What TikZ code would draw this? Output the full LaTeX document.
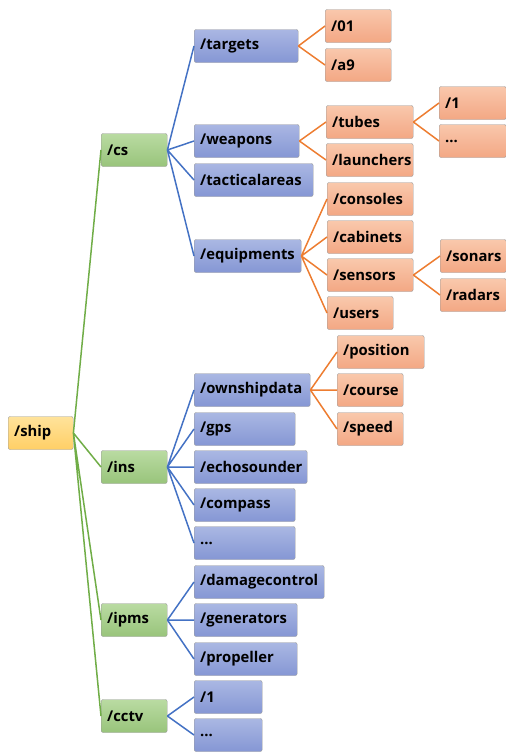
\documentclass[tikz,border=0pt]{standalone}
\usepackage{fontspec}
\setmainfont{Open Sans}
\definecolor{ylwTop}{HTML}{FFE39B}
\definecolor{ylwBot}{HTML}{FFCF66}
\definecolor{grnTop}{HTML}{BADBA2}
\definecolor{grnBot}{HTML}{98C47B}
\definecolor{bluTop}{HTML}{AAB7E3}
\definecolor{bluBot}{HTML}{8596D4}
\definecolor{orgTop}{HTML}{F9C8AC}
\definecolor{orgBot}{HTML}{F3A784}
\definecolor{grnLine}{HTML}{70AD47}
\definecolor{bluLine}{HTML}{4472C4}
\definecolor{orgLine}{HTML}{ED7D31}
\tikzset{%
    box/.style={draw=black!40, rounded corners=2pt, anchor=west,
        minimum height=33pt, inner xsep=6pt, inner ysep=0pt, align=left,
        font=\bfseries\fontsize{14.8}{16}\selectfont, text width=#1-12pt},
    ylw/.style={box=#1, top color=ylwTop, bottom color=ylwBot},
    grn/.style={box=#1, top color=grnTop, bottom color=grnBot},
    blu/.style={box=#1, top color=bluTop, bottom color=bluBot},
    org/.style={box=#1, top color=orgTop, bottom color=orgBot}
}
\begin{document}
\begin{tikzpicture}[
                x=1pt, y=-1pt,
                gline/.style={grnLine, line width=1.5pt},
                bline/.style={bluLine, line width=1.5pt},
                oline/.style={orgLine, line width=1.5pt}
            ]
            \useasboundingbox (0,0) rectangle (506,753);
            % root and first level
            \node[ylw=65pt] (ship) at (8,433){/ship};
            \node[grn=66pt] (cs) at (101,150){/cs};
            \node[grn=66pt] (ins) at (101,467){/ins};
            \node[grn=66pt] (ipms) at (101,620){/ipms};
            \node[grn=66pt] (cctv) at (101,716){/cctv};

            % second level
            \node[blu=104pt] (targets) at (194,46){/targets};
            \node[blu=105pt] (weapons) at (194,141){/weapons};
            \node[blu=119pt] (tactical) at (194,180){/tacticalareas};
            \node[blu=107pt] (equip) at (194,256){/equipments};
            \node[blu=116pt] (ownship) at (194,390){/ownshipdata};
            \node[blu=101pt] (gps) at (194,429){/gps};
            \node[blu=113pt] (echo) at (194,467){/echosounder};
            \node[blu=101pt] (compass) at (194,505){/compass};
            \node[blu=101pt] (insmore) at (194,543){...};
            \node[blu=130pt] (damage) at (194,582){/damagecontrol};
            \node[blu=103pt] (gen) at (194,620){/generators};
            \node[blu=103pt] (prop) at (194,659){/propeller};
            \node[blu=68pt] (camone) at (194,697){/1};
            \node[blu=68pt] (cammore) at (194,735){...};

            % third level
            \node[org=66pt] (tzero) at (325,26){/01};
            \node[org=66pt] (tnine) at (325,65){/a9};
            \node[org=87pt] (tubes) at (326,122){/tubes};
            \node[org=87pt] (launch) at (326,160){/launchers};
            \node[org=86pt] (consoles) at (327,199){/consoles};
            \node[org=86pt] (cabinets) at (327,237){/cabinets};
            \node[org=86pt] (sensors) at (327,275){/sensors};
            \node[org=66pt] (users) at (327,313){/users};
            \node[org=87pt] (position) at (337,352){/position};
            \node[org=66pt] (course) at (337,390){/course};
            \node[org=66pt] (speed) at (337,429){/speed};

            % fourth level
            \node[org=67pt] (tubeone) at (439,103){/1};
            \node[org=67pt] (tubemore) at (439,141){...};
            \node[org=66pt] (sonars) at (440,256){/sonars};
            \node[org=66pt] (radars) at (440,295){/radars};

            \draw[gline] (ship.east) -- (cs.west) (ship.east) -- (ins.west)
                (ship.east) -- (ipms.west) (ship.east) -- (cctv.west);
            \draw[bline] (cs.east) -- (targets.west) (cs.east) -- (weapons.west)
                (cs.east) -- (tactical.west) (cs.east) -- (equip.west);
            \draw[bline] (ins.east) -- (ownship.west) (ins.east) -- (gps.west)
                (ins.east) -- (echo.west) (ins.east) -- (compass.west)
                (ins.east) -- (insmore.west);
            \draw[bline] (ipms.east) -- (damage.west) (ipms.east) -- (gen.west)
                (ipms.east) -- (prop.west);
            \draw[bline] (cctv.east) -- (camone.west) (cctv.east) -- (cammore.west);
            \draw[oline] (targets.east) -- (tzero.west) (targets.east) -- (tnine.west);
            \draw[oline] (weapons.east) -- (tubes.west) (weapons.east) -- (launch.west);
            \draw[oline] (equip.east) -- (consoles.west) (equip.east) -- (cabinets.west)
                (equip.east) -- (sensors.west) (equip.east) -- (users.west);
            \draw[oline] (ownship.east) -- (position.west) (ownship.east) -- (course.west)
                (ownship.east) -- (speed.west);
            \draw[oline] (tubes.east) -- (tubeone.west) (tubes.east) -- (tubemore.west);
            \draw[oline] (sensors.east) -- (sonars.west) (sensors.east) -- (radars.west);
        \end{tikzpicture}
\end{document}
